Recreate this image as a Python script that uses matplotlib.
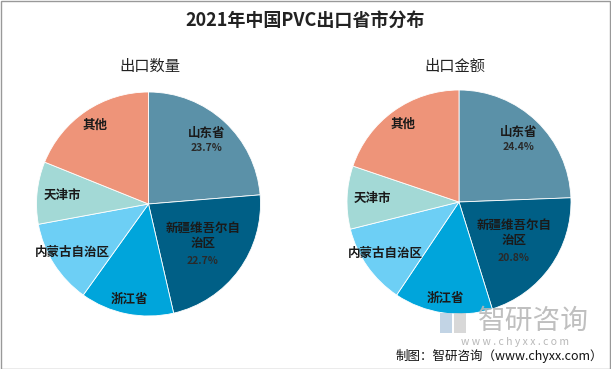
import matplotlib
matplotlib.use("Agg")
import matplotlib.pyplot as plt
import numpy as np
from matplotlib.patches import Rectangle

plt.rcParams['font.family'] = ['Noto Sans CJK SC', 'DejaVu Sans']

categories = ["山东省", "新疆维吾尔自\n治区", "浙江省", "内蒙古自治区", "天津市", "其他"]
quantity_share = [23.7, 22.7, 13.5, 12.2, 9.0, 18.9]
value_share = [24.4, 20.8, 14.2, 11.7, 9.1, 19.8]
show_pct = [True, True, False, False, False, False]
colors = ["#5B91A8", "#005F86", "#00A5DB", "#6DCFF5", "#A3D9D6", "#EE9479"]
label_r = [0.77, 0.6, 0.87, 0.8, 0.77, 0.85]
# pixel offsets (name, pct) from label anchor, for labels with percentages
name_off = [7, 8]
pct_off = [-7, -17]

W, H = 611, 369
fig = plt.figure(figsize=(W / 100, H / 100), dpi=100)
fig.patch.set_facecolor("white")
PT = 0.72  # points per pixel at 100 dpi

def px_axes(cx, cy, r):
    return fig.add_axes([(cx - r) / W, 1 - (cy + r) / H, 2 * r / W, 2 * r / H])

def draw_pie(ax, vals):
    wedges, _ = ax.pie(vals, colors=colors, startangle=90, counterclock=False,
                       radius=1.0, wedgeprops=dict(linewidth=0.6, edgecolor="white"))
    ax.set_xlim(-1, 1)
    ax.set_ylim(-1, 1)
    ax.set_aspect("equal")
    for i, (w, lab, v, sp, rf) in enumerate(zip(wedges, categories, vals, show_pct, label_r)):
        mid = np.deg2rad((w.theta1 + w.theta2) / 2)
        x, y = rf * np.cos(mid), rf * np.sin(mid)
        if sp:
            ax.annotate(lab, (x, y), xytext=(0, name_off[i] * PT), textcoords="offset points",
                        ha="center", va="center", fontsize=9, fontweight="bold",
                        color="#1a1a1a", linespacing=1.25)
            ax.annotate(f"{v}%", (x, y), xytext=(0, pct_off[i] * PT), textcoords="offset points",
                        ha="center", va="center", fontsize=7.5, fontweight="bold",
                        color="#2a2a2a")
        else:
            ax.text(x, y, lab, ha="center", va="center", fontsize=9,
                    fontweight="bold", color="#1a1a1a")

ax1 = px_axes(148.5, 204, 112)
draw_pie(ax1, quantity_share)
ax2 = px_axes(459, 202, 112)
draw_pie(ax2, value_share)

fig.text(0.5, 1 - 20 / H, "2021年中国PVC出口省市分布", ha="center", va="center",
         fontsize=13, fontweight="bold", color="#222222")
fig.text(150 / W, 1 - 66 / H, "出口数量", ha="center", va="center", fontsize=11, color="#222222")
fig.text(455 / W, 1 - 66 / H, "出口金额", ha="center", va="center", fontsize=11, color="#222222")

# watermark
fig.text(533 / W, 1 - 321 / H, "智研咨询", ha="center", va="center", fontsize=20,
         color="#b8b8b8", alpha=0.9)
fig.text(515 / W, 1 - 342 / H, "w w w . c h y x x . c o m", ha="center", va="center",
         fontsize=7.5, color="#b8b8b8")
fig.patches.append(Rectangle((440 / W, 1 - 333 / H), 12 / W, 20 / H, transform=fig.transFigure,
                             facecolor="#a9c3da", edgecolor="none", alpha=0.7))
fig.patches.append(Rectangle((454 / W, 1 - 333 / H), 12 / W, 20 / H, transform=fig.transFigure,
                             facecolor="#c8c8c8", edgecolor="none", alpha=0.7))

fig.text(603 / W, 1 - 356 / H, "制图：智研咨询（www.chyxx.com）", ha="right", va="center",
         fontsize=9, color="#111111")

fig.patches.append(Rectangle((0.5 / W, 0.5 / H), 1 - 1.5 / W, 1 - 1.5 / H, transform=fig.transFigure,
                             facecolor="none", edgecolor="#999999", linewidth=1))

fig.savefig("out.png", dpi=100)
